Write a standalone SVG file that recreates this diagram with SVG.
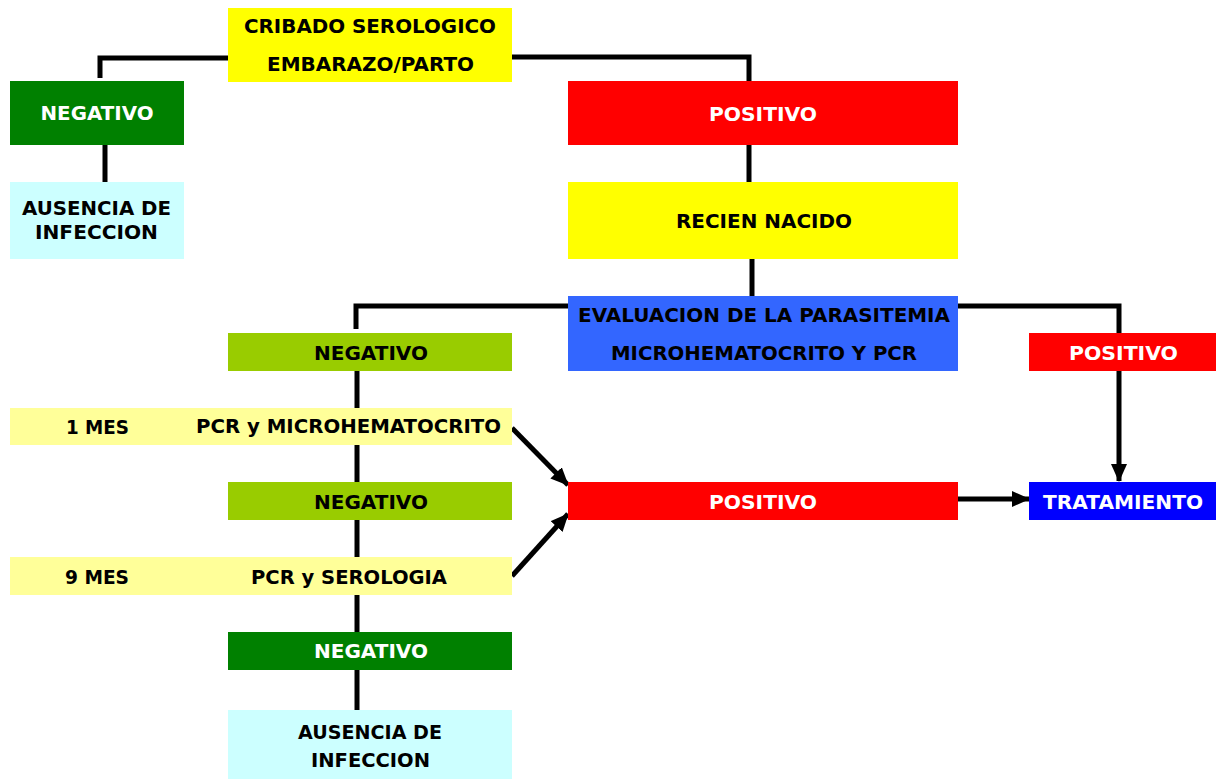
<svg xmlns="http://www.w3.org/2000/svg" width="1216" height="780" viewBox="0 0 1216 780">
<style>
text{font-family:"DejaVu Sans","Verdana",sans-serif;font-weight:bold;font-size:19.5px;text-anchor:middle}
.w{fill:#ffffff}.k{fill:#000000}
.ln{stroke:#000;stroke-width:5;fill:none}
</style>
<defs>
<marker id="ah" markerUnits="userSpaceOnUse" markerWidth="18" markerHeight="16" refX="17" refY="8" orient="auto"><path d="M0,0 L18,8 L0,16 Z" fill="#000"/></marker>
</defs>
<rect width="1216" height="780" fill="#fff"/>
<g id="connectors">
<polyline class="ln" points="228,58 100,58 100,78"/>
<line class="ln" x1="105" y1="145" x2="105" y2="183"/>
<polyline class="ln" points="512,57 749,57 749,82"/>
<line class="ln" x1="749" y1="145" x2="749" y2="182"/>
<line class="ln" x1="752" y1="259" x2="752" y2="296"/>
<polyline class="ln" points="568,306 356,306 356,329"/>
<polyline class="ln" points="958,306 1119,306 1119,333"/>
<line class="ln" x1="1119" y1="371" x2="1119" y2="481" marker-end="url(#ah)"/>
<line class="ln" x1="958" y1="499" x2="1029" y2="499" marker-end="url(#ah)"/>
<line class="ln" x1="512" y1="428" x2="568" y2="485" marker-end="url(#ah)"/>
<line class="ln" x1="512" y1="576" x2="568" y2="514" marker-end="url(#ah)"/>
<line class="ln" x1="357" y1="371" x2="357" y2="408"/>
<line class="ln" x1="357" y1="445" x2="357" y2="482"/>
<line class="ln" x1="357" y1="520" x2="357" y2="557"/>
<line class="ln" x1="357" y1="595" x2="357" y2="632"/>
<line class="ln" x1="357" y1="670" x2="357" y2="710"/>
</g>
<g id="cribado"><rect x="228" y="8" width="284" height="74" fill="#ffff00"/>
<text class="k" x="370" y="33" textLength="252" lengthAdjust="spacingAndGlyphs">CRIBADO SEROLOGICO</text>
<text class="k" x="370.5" y="71" textLength="207" lengthAdjust="spacingAndGlyphs">EMBARAZO/PARTO</text></g>
<g id="negativo1"><rect x="10" y="81" width="174" height="64" fill="#008000"/>
<text class="w" x="97" y="120" textLength="113" lengthAdjust="spacingAndGlyphs">NEGATIVO</text></g>
<g id="ausencia1"><rect x="10" y="182" width="174" height="77" fill="#ccffff"/>
<text class="k" x="96.5" y="215" textLength="149" lengthAdjust="spacingAndGlyphs">AUSENCIA DE</text>
<text class="k" x="96.5" y="239" textLength="123" lengthAdjust="spacingAndGlyphs">INFECCION</text></g>
<g id="positivo1"><rect x="568" y="81" width="390" height="64" fill="#ff0000"/>
<text class="w" x="763" y="120.5" textLength="108" lengthAdjust="spacingAndGlyphs">POSITIVO</text></g>
<g id="reciennacido"><rect x="568" y="182" width="390" height="77" fill="#ffff00"/>
<text class="k" x="764" y="227.5" textLength="176" lengthAdjust="spacingAndGlyphs">RECIEN NACIDO</text></g>
<g id="evaluacion"><rect x="568" y="296" width="390" height="75" fill="#3366ff"/>
<text class="k" x="764" y="322" textLength="372" lengthAdjust="spacingAndGlyphs">EVALUACION DE LA PARASITEMIA</text>
<text class="k" x="764" y="359.5" textLength="306" lengthAdjust="spacingAndGlyphs">MICROHEMATOCRITO Y PCR</text></g>
<g id="positivo2"><rect x="1029" y="333" width="187" height="38" fill="#ff0000"/>
<text class="w" x="1123.5" y="359.5" textLength="109" lengthAdjust="spacingAndGlyphs">POSITIVO</text></g>
<g id="negativo2"><rect x="228" y="333" width="284" height="38" fill="#99cc00"/>
<text class="k" x="371" y="359.5" textLength="114" lengthAdjust="spacingAndGlyphs">NEGATIVO</text></g>
<g id="mes1"><rect x="10" y="408" width="502" height="37" fill="#ffff99"/>
<text class="k" x="97.5" y="433.5" textLength="63" lengthAdjust="spacingAndGlyphs">1 MES</text>
<text class="k" x="348.5" y="432.5" textLength="305" lengthAdjust="spacingAndGlyphs">PCR y MICROHEMATOCRITO</text></g>
<g id="negativo3"><rect x="228" y="482" width="284" height="38" fill="#99cc00"/>
<text class="k" x="371" y="508.5" textLength="114" lengthAdjust="spacingAndGlyphs">NEGATIVO</text></g>
<g id="positivo3"><rect x="568" y="482" width="390" height="38" fill="#ff0000"/>
<text class="w" x="763" y="508.5" textLength="108" lengthAdjust="spacingAndGlyphs">POSITIVO</text></g>
<g id="tratamiento"><rect x="1029" y="482" width="187" height="38" fill="#0000ff"/>
<text class="w" x="1123" y="508.5" textLength="160" lengthAdjust="spacingAndGlyphs">TRATAMIENTO</text></g>
<g id="mes9"><rect x="10" y="557" width="502" height="38" fill="#ffff99"/>
<text class="k" x="97" y="583.5" textLength="64" lengthAdjust="spacingAndGlyphs">9 MES</text>
<text class="k" x="349" y="583.5" textLength="196" lengthAdjust="spacingAndGlyphs">PCR y SEROLOGIA</text></g>
<g id="negativo4"><rect x="228" y="632" width="284" height="38" fill="#008000"/>
<text class="w" x="371" y="658" textLength="114" lengthAdjust="spacingAndGlyphs">NEGATIVO</text></g>
<g id="ausencia2"><rect x="228" y="710" width="284" height="69" fill="#ccffff"/>
<text class="k" x="370" y="739" textLength="144" lengthAdjust="spacingAndGlyphs">AUSENCIA DE</text>
<text class="k" x="370.5" y="766.5" textLength="119" lengthAdjust="spacingAndGlyphs">INFECCION</text></g>
</svg>
